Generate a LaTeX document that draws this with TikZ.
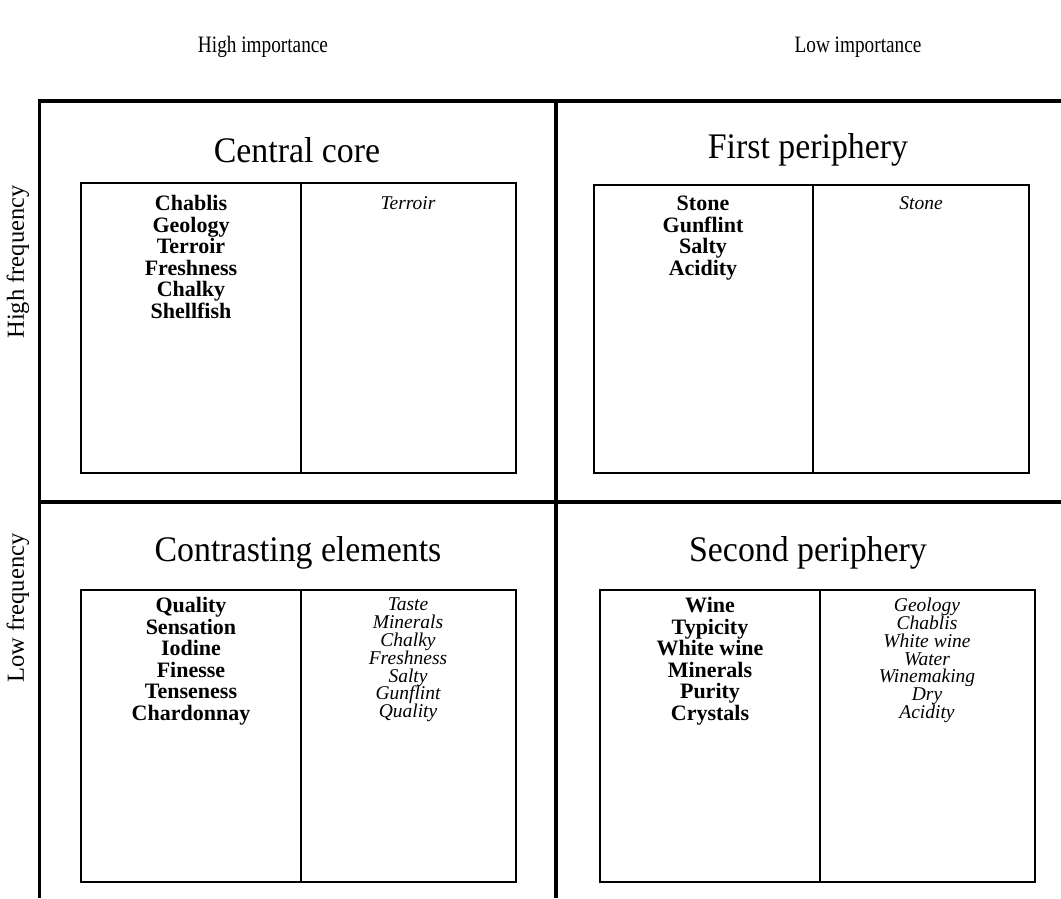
\documentclass[tikz,border=0pt]{standalone}
\usepackage{fontspec}
\setmainfont{Liberation Serif}
\newfontfamily\condensedfont[FakeStretch=0.82]{Liberation Serif}
\newfontfamily\titlefont[FakeStretch=0.94]{Liberation Serif}
\newcommand\tightset{\lineskiplimit=-100pt\relax\lineskip=0pt\relax}
\begin{document}
\begin{tikzpicture}[x=1pt,y=-1pt,
  frame/.style={line width=3.5pt},
  inbox/.style={line width=2pt},
  toplab/.style={font=\condensedfont\fontsize{23.5}{26}\selectfont, inner sep=0pt},
  sidelab/.style={font=\fontsize{24.5}{26}\selectfont, inner sep=0pt, rotate=90},
  title/.style={font=\titlefont\fontsize{36}{40}\selectfont, inner sep=0pt},
  boldlist/.style={font=\fontsize{22}{21.6}\selectfont\bfseries\tightset, align=center, inner sep=0pt, anchor=north},
  itlist/.style={font=\fontsize{19.5}{17.8}\selectfont\itshape\tightset, align=center, inner sep=0pt, anchor=north}]
\useasboundingbox (0,0) rectangle (1061,898);
% outer frame
\draw[frame] (39.5,898) -- (39.5,101) -- (1061,101);
\draw[frame] (556,101) -- (556,898);
\draw[frame] (38,502) -- (1061,502);
% axis labels
\node[toplab] (hi) at (263,47) {High importance};
\node[toplab] (li) at (858,47) {Low importance};
\node[sidelab] (hf) at (18,262) {High frequency};
\node[sidelab] (lf) at (18,608) {Low frequency};
% titles
\node[title] (t1) at (297,150) {Central core};
\node[title] (t2) at (808,150) {First periphery};
\node[title] (t3) at (298,553) {Contrasting elements};
\node[title] (t4) at (808,553) {Second periphery};
% inner boxes
\draw[inbox] (81,183) rectangle (516,473);
\draw[inbox] (301,183) -- (301,473);
\draw[inbox] (594,185) rectangle (1029,473);
\draw[inbox] (813,185) -- (813,473);
\draw[inbox] (81,590) rectangle (516,882);
\draw[inbox] (301,590) -- (301,882);
\draw[inbox] (600,590) rectangle (1035,882);
\draw[inbox] (820,590) -- (820,882);
% lists
\node[boldlist] (l1) at (191,195) {Chablis\\Geology\\Terroir\\Freshness\\Chalky\\Shellfish};
\node[itlist] (r1) at (408,196) {Terroir};
\node[boldlist] (l2) at (703,196) {Stone\\Gunflint\\Salty\\Acidity};
\node[itlist] (r2) at (921,196) {Stone};
\node[boldlist] (l3) at (191,597) {Quality\\Sensation\\Iodine\\Finesse\\Tenseness\\Chardonnay};
\node[itlist] (r3) at (408,598) {Taste\\Minerals\\Chalky\\Freshness\\Salty\\Gunflint\\Quality};
\node[boldlist] (l4) at (710,597) {Wine\\Typicity\\White wine\\Minerals\\Purity\\Crystals};
\node[itlist] (r4) at (927,598) {Geology\\Chablis\\White wine\\Water\\Winemaking\\Dry\\Acidity};
\end{tikzpicture}
\end{document}
